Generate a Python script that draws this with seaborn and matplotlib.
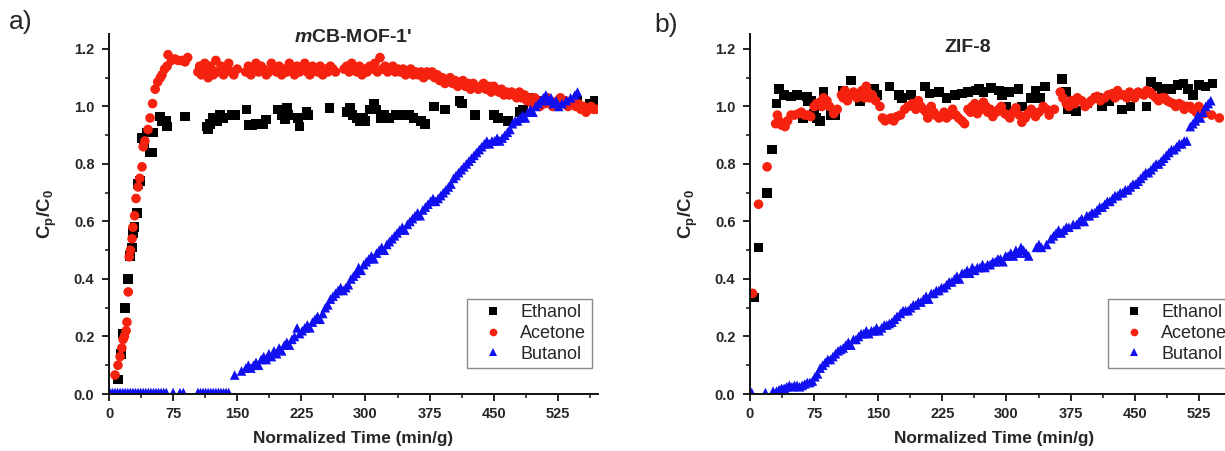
import matplotlib
matplotlib.use("Agg")
import matplotlib.pyplot as plt
from matplotlib.ticker import MultipleLocator, FormatStrFormatter
import pandas as pd
import seaborn as sns

# ---------------------------------------------------------------------------
# Breakthrough data, (normalized time [min/g], Cp/C0) pairs per solvent
# ---------------------------------------------------------------------------
SOLVENTS = ["Ethanol", "Acetone", "Butanol"]
COLORS = {"Ethanol": "#000000", "Acetone": "#f5220f", "Butanol": "#1010f0"}
MARKERS = {"Ethanol": "s", "Acetone": "o", "Butanol": "^"}
PANEL_TITLES = ["$\\mathit{m}$CB-MOF-1'", "ZIF-8"]
PANEL_LETTERS = ["a)", "b)"]
X_TICKS = [0, 75, 150, 225, 300, 375, 450, 525]
Y_TICKS = [0.0, 0.2, 0.4, 0.6, 0.8, 1.0, 1.2]

# mCB-MOF-1'
ETHANOL_A = [
    (10.5, 0.05), (14, 0.14), (16.5, 0.21), (18.7, 0.30), (22, 0.40), (24.6, 0.48),
    (26.8, 0.51), (28.4, 0.56), (30, 0.58), (32.7, 0.63), (34, 0.73), (36, 0.74),
    (38.6, 0.89), (41, 0.87), (44, 0.91), (48, 0.84), (50, 0.84), (52, 0.91),
    (60, 0.965), (62, 0.95), (67, 0.95), (68, 0.93), (89, 0.965), (114, 0.93),
    (116, 0.92), (118, 0.94), (122, 0.96), (126, 0.95), (130, 0.97), (134, 0.96),
    (144, 0.97), (148, 0.97), (161, 0.99), (164, 0.935), (168, 0.935), (172, 0.94),
    (180, 0.94), (184, 0.955), (198, 0.99), (202, 0.97), (206, 0.955), (208, 0.995),
    (210, 0.97), (221, 0.96), (223, 0.93), (231, 0.98), (233, 0.97), (258, 0.995),
    (278, 0.98), (282, 0.995), (285, 0.97), (290, 0.96), (293, 0.95), (297, 0.96),
    (300, 0.95), (305, 0.99), (310, 1.01), (313, 0.99), (318, 0.96), (322, 0.97),
    (328, 0.96), (335, 0.97), (342, 0.97), (351, 0.97), (356, 0.96), (365, 0.95),
    (370, 0.94), (380, 1.00), (393, 0.99), (410, 1.02), (413, 1.01), (428, 0.97),
    (450, 0.97), (455, 0.96), (467, 0.95), (480, 0.98), (484, 0.99), (490, 1.03),
    (502, 1.02), (548, 1.02), (562, 1.01), (568, 1.02),
]
ACETONE_A = [
    (7, 0.066), (10.5, 0.10), (13, 0.13), (15, 0.16), (16.5, 0.19), (18, 0.20),
    (20, 0.22), (21, 0.25), (22.5, 0.355), (23.6, 0.477), (25, 0.50), (27, 0.54),
    (28, 0.58), (30, 0.62), (31.6, 0.68), (34, 0.72), (36, 0.75), (38.6, 0.79),
    (40, 0.86), (42, 0.88), (45.6, 0.92), (48, 0.96), (51, 1.01), (54, 1.06),
    (57, 1.085), (60, 1.10), (62, 1.11), (65, 1.13), (68, 1.14), (69, 1.18),
    (73, 1.16), (77, 1.165), (81, 1.16), (85, 1.16), (89, 1.155), (92, 1.17),
    (104, 1.12), (106, 1.14), (108, 1.11), (110, 1.13), (112, 1.15), (114, 1.12),
    (116, 1.10), (118, 1.14), (120, 1.13), (122, 1.11), (125, 1.16), (128, 1.12),
    (131, 1.14), (134, 1.11), (137, 1.13), (140, 1.15), (143, 1.12), (146, 1.11),
    (150, 1.13), (160, 1.12), (163, 1.14), (166, 1.11), (169, 1.13), (172, 1.15),
    (175, 1.12), (178, 1.14), (181, 1.13), (184, 1.11), (187, 1.12), (190, 1.15),
    (193, 1.13), (196, 1.12), (199, 1.14), (202, 1.11), (205, 1.13), (208, 1.12),
    (211, 1.15), (214, 1.13), (217, 1.11), (220, 1.14), (223, 1.12), (226, 1.13),
    (229, 1.15), (232, 1.12), (235, 1.11), (238, 1.14), (241, 1.13), (244, 1.12),
    (247, 1.14), (250, 1.11), (253, 1.13), (256, 1.12), (259, 1.14), (262, 1.13),
    (265, 1.12), (275, 1.13), (278, 1.14), (281, 1.12), (284, 1.15), (287, 1.13),
    (290, 1.12), (293, 1.14), (296, 1.11), (299, 1.13), (302, 1.12), (305, 1.14),
    (308, 1.13), (311, 1.15), (314, 1.12), (317, 1.17), (320, 1.13), (323, 1.14),
    (326, 1.12), (329, 1.13), (332, 1.14), (335, 1.12), (338, 1.13), (341, 1.12),
    (344, 1.13), (347, 1.11), (350, 1.12), (353, 1.13), (356, 1.11), (359, 1.12),
    (362, 1.11), (365, 1.12), (368, 1.10), (372, 1.12), (375, 1.11), (378, 1.12),
    (381, 1.10), (384, 1.11), (387, 1.09), (390, 1.10), (393, 1.08), (396, 1.09),
    (399, 1.10), (402, 1.08), (405, 1.09), (408, 1.07), (411, 1.08), (414, 1.09),
    (417, 1.07), (420, 1.08), (423, 1.06), (426, 1.08), (429, 1.07), (432, 1.06),
    (435, 1.07), (438, 1.08), (441, 1.06), (444, 1.07), (447, 1.05), (450, 1.07),
    (453, 1.06), (456, 1.05), (459, 1.06), (462, 1.04), (465, 1.05), (468, 1.04),
    (471, 1.05), (474, 1.04), (477, 1.03), (480, 1.05), (483, 1.03), (486, 1.04),
    (489, 1.02), (492, 1.03), (495, 1.01), (498, 1.03), (501, 1.02), (504, 1.00),
    (507, 1.02), (510, 1.01), (513, 1.03), (516, 1.02), (519, 1.00), (522, 1.01),
    (525, 1.02), (528, 1.03), (531, 1.01), (534, 1.02), (537, 1.00), (540, 1.01),
    (543, 1.02), (546, 1.00), (549, 1.01), (552, 0.99), (555, 1.00), (558, 0.98),
    (561, 0.99), (564, 1.00), (567, 0.99), (570, 0.99),
]
BUTANOL_A = [
    (1, 0.005), (4, 0.005), (7, 0.005), (10, 0.005), (13, 0.005), (16, 0.005),
    (19, 0.005), (22, 0.005), (25, 0.005), (28, 0.005), (31, 0.005), (34, 0.005),
    (37, 0.005), (40, 0.005), (43, 0.005), (46, 0.005), (49, 0.005), (52, 0.005),
    (55, 0.005), (58, 0.005), (61, 0.005), (64, 0.005), (67, 0.005), (75, 0.005),
    (83, 0.005), (87, 0.005), (104, 0.005), (107, 0.005), (110, 0.005), (113, 0.005),
    (116, 0.005), (119, 0.005), (122, 0.005), (125, 0.005), (128, 0.005), (131, 0.005),
    (134, 0.005), (137, 0.005), (140, 0.005),
    (147, 0.066), (155, 0.08), (160, 0.09), (163, 0.10), (166, 0.09), (169, 0.10),
    (172, 0.11), (175, 0.10), (178, 0.12), (181, 0.13), (184, 0.12), (187, 0.14),
    (190, 0.13), (193, 0.15), (196, 0.14), (199, 0.16), (202, 0.15), (205, 0.17),
    (208, 0.18), (211, 0.17), (214, 0.19), (217, 0.20), (220, 0.23), (223, 0.21),
    (226, 0.22), (229, 0.23), (232, 0.24), (235, 0.23), (238, 0.25), (241, 0.26),
    (244, 0.27), (247, 0.26), (250, 0.28), (253, 0.30), (256, 0.31), (259, 0.33),
    (262, 0.34), (265, 0.35), (268, 0.36), (271, 0.37), (274, 0.36), (277, 0.37),
    (280, 0.38), (283, 0.40), (286, 0.41), (289, 0.42), (292, 0.44), (295, 0.43),
    (298, 0.45), (301, 0.46), (304, 0.47), (307, 0.48), (310, 0.47), (313, 0.49),
    (316, 0.50), (319, 0.51), (322, 0.50), (325, 0.52), (328, 0.53), (331, 0.54),
    (334, 0.55), (337, 0.56), (340, 0.57), (343, 0.58), (346, 0.57), (349, 0.59),
    (352, 0.60), (355, 0.61), (358, 0.62), (361, 0.63), (364, 0.62), (367, 0.64),
    (370, 0.65), (373, 0.66), (376, 0.67), (379, 0.68), (382, 0.67), (385, 0.68),
    (388, 0.69), (391, 0.70), (394, 0.71), (397, 0.72), (400, 0.73), (403, 0.75),
    (406, 0.76), (409, 0.77), (412, 0.78), (415, 0.79), (418, 0.80), (421, 0.81),
    (424, 0.82), (427, 0.83), (430, 0.84), (433, 0.85), (436, 0.86), (439, 0.87),
    (442, 0.88), (445, 0.87), (448, 0.88), (451, 0.88), (454, 0.89), (457, 0.88),
    (460, 0.89), (463, 0.90), (466, 0.91), (469, 0.92), (472, 0.94), (475, 0.95),
    (478, 0.95), (481, 0.96), (484, 0.97), (487, 0.96), (490, 0.98), (493, 0.99),
    (496, 0.98), (499, 1.00), (502, 1.01), (505, 1.02), (508, 1.03), (511, 1.04),
    (514, 1.02), (517, 1.03), (520, 1.01), (523, 1.02), (526, 1.00), (530, 1.01),
    (535, 1.02), (540, 1.03), (545, 1.04), (548, 1.05),
]

# ZIF-8
ETHANOL_B = [
    (4.5, 0.335), (10, 0.51), (20, 0.70), (26, 0.85), (31, 1.01), (34, 1.06),
    (40, 1.04), (48, 1.035), (55, 1.04), (62, 0.96), (67, 1.035), (68, 1.02),
    (71, 1.02), (75, 0.975), (78, 0.96), (82, 0.95), (86, 1.05), (95, 0.97),
    (100, 0.97), (109, 1.055), (118, 1.09), (129, 1.02), (140, 1.05), (145, 1.06),
    (149, 1.04), (163, 1.07), (174, 1.04), (178, 1.03), (188, 1.04), (205, 1.07),
    (210, 1.045), (221, 1.05), (230, 1.03), (240, 1.04), (248, 1.045), (255, 1.05),
    (264, 1.055), (268, 1.06), (273, 1.05), (282, 1.065), (291, 1.055), (295, 1.04),
    (300, 1.00), (303, 1.05), (314, 1.06), (318, 1.00), (329, 1.03), (334, 1.055),
    (340, 1.03), (345, 1.07), (365, 1.095), (370, 1.05), (372, 0.99), (381, 0.985),
    (395, 1.01), (406, 1.03), (412, 1.00), (420, 1.02), (435, 0.99), (445, 1.00),
    (464, 1.00), (469, 1.085), (476, 1.07), (482, 1.06), (493, 1.06), (500, 1.075),
    (507, 1.08), (512, 1.06), (518, 1.04), (525, 1.075), (533, 1.07), (541, 1.08),
]
ACETONE_B = [
    (3, 0.35), (10, 0.66), (20, 0.79), (30, 0.94), (32, 0.97), (34, 0.95),
    (37, 0.935), (39, 0.94), (41, 0.93), (44, 0.95), (48, 0.97), (52, 0.97),
    (57, 0.975), (60, 0.98), (64, 0.97), (68, 0.97), (71, 0.965), (75, 1.00),
    (78, 1.01), (82, 1.015), (84, 1.00), (86, 1.03), (90, 1.02), (93, 1.00),
    (98, 0.975), (102, 0.99), (107, 1.04), (109, 1.03), (111, 1.055), (114, 1.02),
    (118, 1.04), (121, 1.05), (125, 1.03), (128, 1.04), (131, 1.055), (134, 1.03),
    (136, 1.07), (138, 1.05), (140, 1.03), (143, 1.04), (147, 1.02), (152, 1.00),
    (155, 0.96), (158, 0.95), (161, 0.955), (165, 0.96), (168, 0.95), (172, 0.965),
    (176, 0.97), (181, 0.99), (185, 1.00), (190, 1.01), (194, 0.99), (197, 1.02),
    (200, 1.00), (203, 0.99), (206, 0.98), (208, 0.96), (212, 1.00), (215, 0.98),
    (217, 0.97), (221, 0.96), (224, 0.965), (227, 0.98), (230, 0.96), (234, 0.97),
    (237, 0.99), (241, 0.97), (244, 0.96), (248, 0.95), (251, 0.94), (255, 0.99),
    (258, 0.98), (260, 1.00), (263, 1.01), (266, 0.975), (270, 0.99), (273, 1.015),
    (276, 1.00), (278, 0.98), (281, 0.99), (284, 0.965), (288, 0.98), (291, 0.99),
    (294, 1.00), (298, 0.975), (301, 0.97), (304, 0.96), (308, 0.98), (311, 0.995),
    (315, 0.97), (318, 0.945), (322, 0.96), (325, 0.975), (329, 0.99), (334, 0.965),
    (338, 0.98), (343, 1.00), (347, 0.99), (350, 0.97), (356, 0.99), (363, 1.05),
    (366, 1.03), (370, 1.01), (373, 1.00), (376, 1.02), (380, 1.01), (383, 1.03),
    (388, 1.02), (392, 1.00), (396, 1.01), (399, 1.02), (403, 1.03), (406, 1.035),
    (410, 1.02), (415, 1.03), (419, 1.04), (424, 1.045), (427, 1.03), (430, 1.055),
    (434, 1.04), (437, 1.04), (441, 1.03), (444, 1.05), (447, 1.04), (450, 1.03),
    (454, 1.05), (457, 1.045), (461, 1.04), (464, 1.055), (468, 1.05), (471, 1.04),
    (475, 1.03), (478, 1.02), (482, 1.03), (485, 1.03), (488, 1.02), (491, 1.015),
    (495, 1.01), (498, 1.00), (502, 1.01), (505, 1.005), (508, 0.99), (511, 1.00),
    (515, 1.00), (518, 0.99), (522, 0.98), (525, 1.00), (528, 0.99), (531, 0.975),
    (540, 0.97), (549, 0.96),
]
BUTANOL_B = [
    (2, 0.005), (18, 0.005), (27, 0.01), (31, 0.01), (34, 0.015), (37, 0.02),
    (40, 0.02), (43, 0.025), (46, 0.03), (49, 0.025), (52, 0.03), (55, 0.03),
    (58, 0.025), (61, 0.03), (64, 0.035), (67, 0.04), (70, 0.04), (73, 0.045),
    (76, 0.06), (79, 0.07), (82, 0.09), (85, 0.10), (88, 0.11), (91, 0.12),
    (94, 0.12), (97, 0.13), (100, 0.14), (103, 0.15), (106, 0.155), (109, 0.16),
    (112, 0.17), (115, 0.18), (118, 0.17), (121, 0.19), (124, 0.19), (127, 0.20),
    (130, 0.21), (133, 0.21), (136, 0.22), (139, 0.21), (142, 0.22), (145, 0.22),
    (148, 0.23), (151, 0.22), (154, 0.23), (157, 0.24), (160, 0.24), (163, 0.245),
    (166, 0.25), (169, 0.26), (172, 0.27), (176, 0.28), (179, 0.29), (182, 0.29),
    (185, 0.29), (188, 0.30), (191, 0.31), (194, 0.31), (197, 0.32), (200, 0.32),
    (203, 0.33), (206, 0.34), (209, 0.33), (212, 0.35), (215, 0.35), (218, 0.36),
    (221, 0.36), (224, 0.37), (227, 0.37), (230, 0.38), (233, 0.39), (236, 0.39),
    (239, 0.40), (242, 0.41), (245, 0.40), (248, 0.42), (251, 0.42), (254, 0.43),
    (257, 0.42), (260, 0.44), (263, 0.43), (266, 0.44), (269, 0.44), (272, 0.45),
    (275, 0.44), (278, 0.45), (281, 0.45), (284, 0.46), (287, 0.46), (290, 0.47),
    (293, 0.47), (296, 0.46), (299, 0.48), (302, 0.48), (305, 0.49), (308, 0.48),
    (311, 0.50), (314, 0.49), (317, 0.51), (320, 0.50), (323, 0.49), (326, 0.48),
    (335, 0.51), (338, 0.52), (341, 0.51), (347, 0.52), (352, 0.54), (355, 0.55),
    (358, 0.56), (361, 0.57), (364, 0.56), (367, 0.57), (370, 0.58), (373, 0.58),
    (378, 0.59), (382, 0.59), (385, 0.60), (388, 0.61), (391, 0.60), (394, 0.62),
    (397, 0.62), (400, 0.63), (403, 0.63), (406, 0.64), (409, 0.65), (412, 0.65),
    (415, 0.66), (418, 0.67), (421, 0.67), (424, 0.68), (427, 0.69), (430, 0.69),
    (433, 0.70), (436, 0.70), (439, 0.71), (442, 0.71), (445, 0.72), (448, 0.73),
    (451, 0.73), (454, 0.74), (457, 0.75), (460, 0.76), (463, 0.77), (466, 0.77),
    (469, 0.78), (472, 0.79), (475, 0.80), (478, 0.80), (481, 0.81), (484, 0.82),
    (487, 0.83), (490, 0.84), (493, 0.85), (496, 0.85), (499, 0.86), (502, 0.87),
    (505, 0.87), (508, 0.88), (511, 0.88), (515, 0.93), (518, 0.94), (521, 0.95),
    (524, 0.97), (527, 0.96), (530, 0.98), (533, 1.00), (536, 1.01), (539, 1.02),
]

PANELS = [
    {"Ethanol": ETHANOL_A, "Acetone": ACETONE_A, "Butanol": BUTANOL_A},
    {"Ethanol": ETHANOL_B, "Acetone": ACETONE_B, "Butanol": BUTANOL_B},
]


def panel_frame(series):
    rows = []
    for solvent in SOLVENTS:
        for t, c in series[solvent]:
            rows.append({"time": t, "ratio": c, "solvent": solvent})
    return pd.DataFrame(rows)


sns.set_theme(style="ticks")
plt.rcParams["font.family"] = ["Liberation Sans", "DejaVu Sans"]
plt.rcParams["font.weight"] = "bold"
plt.rcParams["mathtext.fontset"] = "custom"
plt.rcParams["mathtext.rm"] = "Liberation Sans:bold"
plt.rcParams["mathtext.bf"] = "Liberation Sans:bold"
plt.rcParams["mathtext.it"] = "Liberation Sans:italic:bold"

W, H = 1225, 451
fig = plt.figure(figsize=(W / 100, H / 100), dpi=100)
ax_left_px = [109, 750]
axes = [fig.add_axes([x0 / W, 57 / H, 489 / W, 360 / H]) for x0 in ax_left_px]

title_pos = [(0.50, 0.990), (0.446, 0.962)]
letter_pos = [(9 / W, 1 - 10 / H), (654 / W, 1 - 13 / H)]

for ax, series, title, tpos, letter, lpos in zip(
    axes, PANELS, PANEL_TITLES, title_pos, PANEL_LETTERS, letter_pos
):
    df = panel_frame(series)
    sns.scatterplot(
        data=df, x="time", y="ratio", hue="solvent", style="solvent",
        hue_order=SOLVENTS, style_order=SOLVENTS,
        palette=COLORS, markers=MARKERS, s=48, linewidth=0, ax=ax,
    )
    ax.set_xlim(0, 572)
    ax.set_ylim(0, 1.252)
    ax.set_xticks(X_TICKS)
    ax.set_yticks(Y_TICKS)
    ax.xaxis.set_minor_locator(MultipleLocator(37.5))
    ax.yaxis.set_minor_locator(MultipleLocator(0.1))
    ax.yaxis.set_major_formatter(FormatStrFormatter("%.1f"))
    ax.tick_params(which="major", direction="out", length=5, width=1.3,
                   labelsize=10.5, color="#111111")
    ax.tick_params(axis="x", which="major", pad=4.5)
    ax.tick_params(axis="y", which="major", pad=5.5)
    ax.tick_params(which="minor", direction="out", length=3, width=1.1,
                   color="#111111")
    for side in ("top", "right"):
        ax.spines[side].set_visible(False)
    for side in ("left", "bottom"):
        ax.spines[side].set_linewidth(1.4)
        ax.spines[side].set_color("#111111")
    ax.set_xlabel("Normalized Time (min/g)", fontsize=12.4, fontweight="bold",
                  labelpad=7)
    ax.set_ylabel("$\\mathrm{C_p/C_0}$", fontsize=13.5, labelpad=11)
    ax.text(tpos[0], tpos[1], title, transform=ax.transAxes, ha="center",
            va="center", fontsize=14, fontweight="bold")
    fig.text(lpos[0], lpos[1], letter, ha="left", va="top", fontsize=19,
             fontweight="normal")
    sns.move_legend(
        ax, "upper left", bbox_to_anchor=(0.732, 0.264), title=None,
        frameon=True, fancybox=False, edgecolor="#8a8a8a", framealpha=1,
        prop={"family": "Liberation Sans", "weight": "normal", "size": 13},
        handletextpad=0.35, labelspacing=0.2, borderpad=0.3,
        handlelength=2.3, markerscale=0.8, borderaxespad=0,
    )
    ax.get_legend().get_frame().set_linewidth(1.0)

fig.savefig("out.png", dpi=100)
